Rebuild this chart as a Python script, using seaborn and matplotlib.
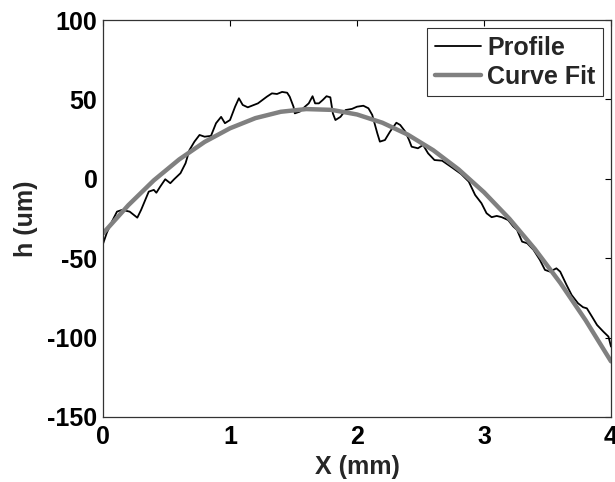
import matplotlib
matplotlib.use('Agg')
import matplotlib.pyplot as plt
import seaborn as sns

profile_x = [0.00, 0.03, 0.07, 0.11, 0.15, 0.21, 0.27, 0.30, 0.36, 0.40, 0.42, 0.45,
             0.49, 0.53, 0.56, 0.61, 0.65, 0.68, 0.72, 0.76, 0.80, 0.85, 0.89, 0.93,
             0.96, 1.00, 1.04, 1.07, 1.10, 1.14, 1.22, 1.29, 1.33, 1.37, 1.41, 1.45,
             1.47, 1.50, 1.51, 1.55, 1.59, 1.62, 1.65, 1.67, 1.70, 1.73, 1.76, 1.79,
             1.81, 1.83, 1.87, 1.91, 1.96, 2.00, 2.05, 2.09, 2.12, 2.16, 2.18, 2.22,
             2.26, 2.31, 2.34, 2.38, 2.41, 2.43, 2.48, 2.52, 2.56, 2.61, 2.67, 2.75,
             2.82, 2.88, 2.93, 2.98, 3.02, 3.06, 3.10, 3.14, 3.19, 3.23, 3.26, 3.30,
             3.34, 3.39, 3.44, 3.48, 3.52, 3.57, 3.60, 3.65, 3.69, 3.74, 3.78, 3.81,
             3.85, 3.89, 3.94, 3.98, 4.00]
profile_h = [-41.0, -34.0, -27.0, -20.7, -19.6, -20.7, -24.5, -19.6, -8.1, -7.0, -8.8, -5.0,
             -0.3, -2.8, -0.3, 3.5, 9.8, 18.0, 23.4, 27.6, 26.5, 27.0, 35.0, 39.0,
             35.0, 37.0, 45.4, 50.7, 46.5, 45.0, 47.5, 51.7, 53.8, 53.4, 54.7, 54.2,
             51.7, 45.4, 41.2, 42.3, 45.4, 47.5, 52.0, 47.5, 47.5, 49.6, 52.0, 51.3,
             41.2, 37.0, 39.0, 43.3, 44.0, 45.4, 46.0, 44.4, 40.2, 28.6, 23.4, 24.4,
             29.7, 35.3, 33.9, 29.7, 24.4, 20.2, 19.2, 21.3, 16.0, 11.8, 11.4, 7.0,
             3.0, -1.8, -10.2, -15.4, -21.7, -24.2, -23.4, -24.2, -26.0, -30.0, -32.2, -39.6,
             -40.6, -44.8, -51.1, -57.4, -58.5, -56.4, -58.5, -66.9, -73.2, -78.4, -80.9, -81.6,
             -86.8, -92.1, -96.3, -99.4, -105.7]

# fitted curve
fit_x = [0.0, 0.2, 0.4, 0.6, 0.8, 1.0, 1.2, 1.4, 1.6, 1.8, 2.0,
         2.2, 2.4, 2.6, 2.8, 3.0, 3.2, 3.4, 3.6, 3.8, 4.0]
fit_h = [-34.4, -16.6, -1.0, 12.2, 23.2, 31.8, 38.2, 42.2, 43.9, 43.4, 40.5,
         35.3, 27.8, 18.0, 5.9, -8.5, -25.2, -44.2, -65.5, -89.1, -115.0]

x_ticks = [0, 1, 2, 3, 4]
y_ticks = [-150, -100, -50, 0, 50, 100]

sns.set_style('white')
plt.rcParams['font.family'] = ['Liberation Sans', 'DejaVu Sans']
plt.rcParams['font.weight'] = 'bold'
plt.rcParams['axes.unicode_minus'] = False

fig = plt.figure(figsize=(6.15, 4.82), dpi=100)
ax = fig.add_axes([0.1675, 0.135, 0.826, 0.8235])

sns.lineplot(x=profile_x, y=profile_h, sort=False, estimator=None, color='black',
             linewidth=1.3, label='Profile', ax=ax)
sns.lineplot(x=fit_x, y=fit_h, sort=False, estimator=None, color='#808080',
             linewidth=3.2, label='Curve Fit', ax=ax)

ax.set_xlim(0, 4)
ax.set_ylim(-150, 100)
ax.set_xticks(x_ticks)
ax.set_yticks(y_ticks)
ax.tick_params(direction='in', length=4, width=0.8, top=True, right=True,
               labelsize=18, colors='black')
ax.tick_params(axis='x', pad=6)
ax.tick_params(axis='y', pad=4)
for lab in ax.get_xticklabels() + ax.get_yticklabels():
    lab.set_fontweight('bold')
for sp in ax.spines.values():
    sp.set_color('#333333')
    sp.set_linewidth(0.9)

ax.set_xlabel('X (mm)', fontsize=18, fontweight='bold', labelpad=4)
ax.set_ylabel('h (um)', fontsize=18, fontweight='bold', labelpad=7)

leg = ax.legend(loc='upper right', fontsize=18, frameon=True, fancybox=False,
                handlelength=1.85, handletextpad=0.25, borderpad=0.3,
                labelspacing=0.2, borderaxespad=0.32)
leg.get_frame().set_edgecolor('black')
leg.get_frame().set_linewidth(0.8)
for t in leg.get_texts():
    t.set_fontweight('bold')

fig.savefig('out.png', dpi=100)
